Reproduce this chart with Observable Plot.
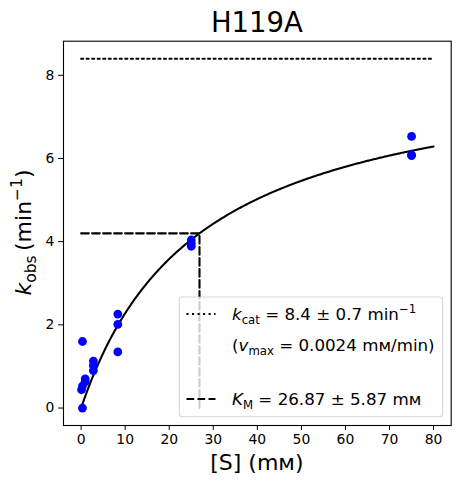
<!DOCTYPE html>
<html><head><meta charset="utf-8">
<script src="https://cdn.jsdelivr.net/npm/d3@7"></script>
<script src="https://cdn.jsdelivr.net/npm/@observablehq/plot@0.6"></script>
<style>
body{margin:0;background:#fff;}
svg{font-family:"DejaVu Sans",sans-serif;}
</style>
</head><body><div id="chart"></div>
<script>
// ---- data ----
const substrate = [0.103, 0.309, 0.309, 0.309, 0.926, 0.926, 2.78, 2.78, 2.78, 8.33, 8.33, 8.33, 25, 25, 25, 75, 75, 75];
const kobs      = [0.44,  0.0,   0.53,  1.6,   0.63,  0.70,  0.90, 1.02, 1.13, 1.35, 2.01, 2.26, 3.89, 3.96, 4.04, 6.07, 6.09, 6.53];
const kcat = 8.4, kcatErr = 0.7, KM = 26.87, KMErr = 5.87, vmax = 0.0024;
const xTicks = [0, 10, 20, 30, 40, 50, 60, 70, 80];
const yTicks = [0, 2, 4, 6, 8];
const xMax = 80;
const titleText = "H119A";
const unit = "m\u1D0D";

const points = substrate.map((s, i) => ({s, k: kobs[i]}));
const fitX = d3.range(0, 401).map(i => i * xMax / 400);
const fit = fitX.map(s => ({s, k: kcat * s / (KM + s)}));
const kcatLine = [{s: 0, k: kcat}, {s: xMax, k: kcat}];
const kmLine = [{s: 0, k: kcat / 2}, {s: KM, k: kcat / 2}, {s: KM, k: 0}];

const W = 460, H = 484;
const plot = Plot.plot({
  width: W, height: H,
  marginTop: 40.7, marginBottom: 59, marginLeft: 63, marginRight: 9.3,
  style: {fontFamily: "DejaVu Sans, sans-serif", fontSize: "13.9px", color: "black", background: "white", overflow: "visible"},
  x: {domain: [-4, 84], label: null},
  y: {domain: [-0.42, 8.82], label: null},
  marks: [
    Plot.line(kcatLine, {x: "s", y: "k", stroke: "black", strokeWidth: 2.08, strokeDasharray: "2.08 3.44"}),
    Plot.line(kmLine, {x: "s", y: "k", stroke: "black", strokeWidth: 2.08, strokeDasharray: "7.7 3.3"}),
    Plot.line(fit, {x: "s", y: "k", stroke: "black", strokeWidth: 2.08}),
    Plot.dot(points, {x: "s", y: "k", r: 4.4, fill: "#0000ff", stroke: "none"}),
    Plot.axisX({ticks: xTicks, tickSize: 4.9, tickPadding: 4.2, label: null, tickFormat: d => String(d)}),
    Plot.axisY({ticks: yTicks, tickSize: 4.9, tickPadding: 4.2, label: null, tickFormat: d => String(d)}),
    Plot.frame({stroke: "black", strokeWidth: 1.1})
  ]
});
document.getElementById("chart").appendChild(plot);

const svg = d3.select(plot);
const ns = "DejaVu Sans, sans-serif";

// title
svg.append("text").attr("x", 256.9).attr("y", 32.3).attr("text-anchor", "middle")
  .attr("font-size", 27.5).attr("font-family", ns).attr("fill", "black").text(titleText);

// x label
svg.append("text").attr("x", 256.9).attr("y", 470).attr("text-anchor", "middle")
  .attr("font-size", 22).attr("font-family", ns).attr("fill", "black").text("[S] (" + unit + ")");

// y label
const yl = svg.append("text").attr("transform", "translate(31,232.5) rotate(-90)")
  .attr("text-anchor", "middle").attr("font-size", 22).attr("font-family", ns).attr("fill", "black");
yl.append("tspan").attr("font-style", "italic").text("k");
yl.append("tspan").attr("font-size", 15.5).attr("dy", 5).text("obs");
yl.append("tspan").attr("dy", -5).text("\u2009(min");
yl.append("tspan").attr("font-size", 15.5).attr("dy", -9).text("\u22121");
yl.append("tspan").attr("dy", 9).text(")");

// legend
const lg = svg.append("g").attr("font-family", ns).attr("font-size", 16.7).attr("fill", "black").attr("text-anchor", "start");
lg.append("rect").attr("x", 179.3).attr("y", 297).attr("width", 263.4).attr("height", 119.7)
  .attr("rx", 3).attr("fill", "white").attr("fill-opacity", 0.8)
  .attr("stroke", "#cccccc").attr("stroke-opacity", 0.8).attr("stroke-width", 1.1);
lg.append("line").attr("x1", 186.5).attr("x2", 215.5).attr("y1", 314).attr("y2", 314)
  .attr("stroke", "black").attr("stroke-width", 2.08).attr("stroke-dasharray", "2.08 3.44");
lg.append("line").attr("x1", 186.5).attr("x2", 215.5).attr("y1", 399).attr("y2", 399)
  .attr("stroke", "black").attr("stroke-width", 2.08).attr("stroke-dasharray", "7.7 3.3");

const t1 = lg.append("text").attr("x", 232).attr("y", 320).attr("text-anchor", "start");
t1.append("tspan").attr("font-style", "italic").text("k");
t1.append("tspan").attr("font-size", 11.7).attr("dy", 4).text("cat");
t1.append("tspan").attr("dy", -4).text(` = ${kcat} \u00B1 ${kcatErr} min`);
t1.append("tspan").attr("font-size", 11.7).attr("dy", -7).text("\u22121");

const t2 = lg.append("text").attr("x", 232).attr("y", 351).attr("text-anchor", "start");
t2.append("tspan").text("(");
t2.append("tspan").attr("font-style", "italic").text("v");
t2.append("tspan").attr("font-size", 11.7).attr("dy", 4).text("max");
t2.append("tspan").attr("dy", -4).text(` = ${vmax} ${unit}/min)`);

const t3 = lg.append("text").attr("x", 232).attr("y", 405).attr("text-anchor", "start");
t3.append("tspan").attr("font-style", "italic").text("K");
t3.append("tspan").attr("font-size", 11.7).attr("dy", 4).text("M");
t3.append("tspan").attr("dy", -4).text(` = ${KM} \u00B1 ${KMErr} ${unit}`);
</script>
</body></html>
